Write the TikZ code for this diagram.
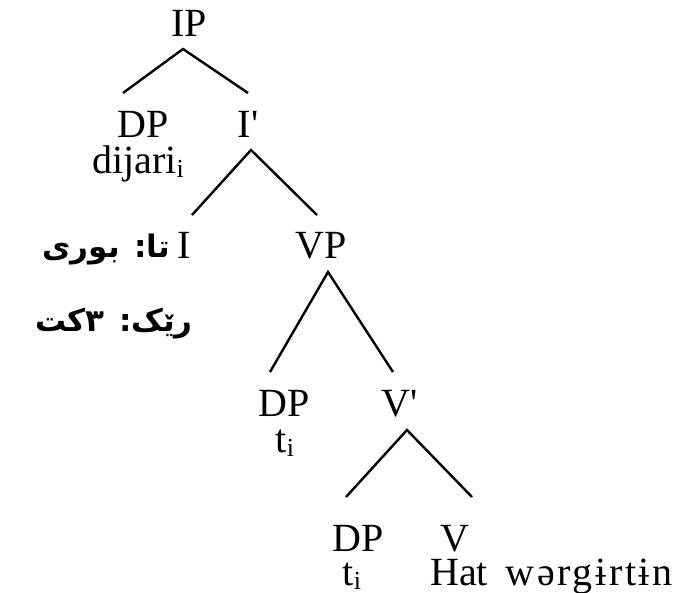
\documentclass[tikz,border=0pt]{standalone}
\usepackage{fontspec}
\newfontfamily\tnr{Liberation Serif}
\newfontfamily\arabicfont[Script=Arabic]{DejaVu Sans}
\TeXXeTstate=1
\newcommand\lowidx[1]{\raisebox{-4pt}{\fontsize{26}{26}\selectfont #1}}
\begin{document}
\begin{tikzpicture}[x=1pt,y=-1pt,
  lbl/.style={anchor=base, inner sep=0pt, font=\tnr\fontsize{40}{48}\selectfont},
  br/.style={line width=2.4pt},
  ar/.style={anchor=base east, inner sep=0pt, font=\arabicfont\bfseries\fontsize{31}{36}\selectfont}]
\useasboundingbox (0,0) rectangle (688,593);
% labels
\node[lbl] (IP) at (189,37) {IP};
\node[lbl] (DP1) at (143,138) {DP};
\node[lbl] (dij) at (138,174) {dijari\lowidx{i}};
\node[lbl] (Ib) at (248,138) {I\char"0027};
\node[lbl] (I) at (184,259) {I};
\node[lbl] (VP) at (321,259) {VP};
\node[lbl] (DP2) at (284,417) {DP};
\node[lbl] (t2) at (285,452) {t\lowidx{i}};
\node[lbl] (Vb) at (400,417) {V\char"0027};
\node[lbl] (DP3) at (358,551) {DP};
\node[lbl] (t3) at (352,585) {t\lowidx{i}};
\node[lbl] (V) at (455,551) {V};
\node[lbl, anchor=base west] (hat) at (430,585) {Hat\hspace{18pt}{\addfontfeature{LetterSpace=6.5}wərgɨrtɨn}};
\node[ar] (ar1) at (170,258) {\beginR تا: بوری\endR};
\node[ar] (ar2) at (193,332) {\beginR رێک: ٣کت\endR};
% branch points
\coordinate (IPa) at (183,49);
\coordinate (DP1t) at (123,93);
\coordinate (Ibt) at (248,93);
\coordinate (Iba) at (251,150);
\coordinate (It) at (192,215);
\coordinate (VPt) at (317,215);
\coordinate (VPa) at (328,272);
\coordinate (DP2t) at (270,372);
\coordinate (Vbt) at (393,372);
\coordinate (Vba) at (407,430);
\coordinate (DP3t) at (346,497);
\coordinate (Vt) at (472,497);
\draw[br] (DP1t) -- (IPa) -- (Ibt);
\draw[br] (It) -- (Iba) -- (VPt);
\draw[br] (DP2t) -- (VPa) -- (Vbt);
\draw[br] (DP3t) -- (Vba) -- (Vt);
\end{tikzpicture}
\end{document}
